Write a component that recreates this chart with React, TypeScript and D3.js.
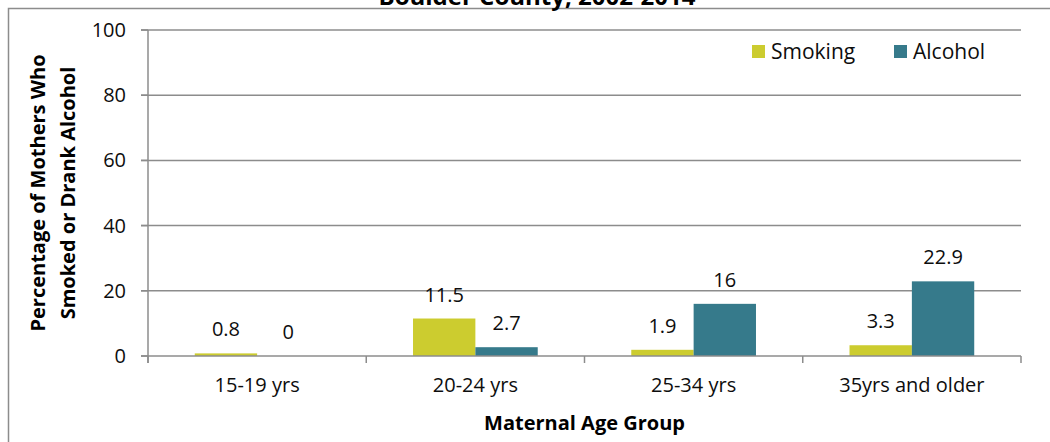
import React from "react";
import * as d3 from "d3";

const categories = ["15-19 yrs", "20-24 yrs", "25-34 yrs", "35yrs and older"];
const seriesNames = ["Smoking", "Alcohol"];
const smoking = [0.8, 11.5, 1.9, 3.3];
const alcohol = [0, 2.7, 16, 22.9];
const yTicks = [0, 20, 40, 60, 80, 100];
const colors = ["#CCCC2F", "#367A8B"];
const titleText = "Boulder County, 2002-2014";

const W = 1050;
const H = 442;
const FONT = "'Open Sans', sans-serif";
const INK = "#0d0d0d";

export default function App() {
  const left = 148, right = 1021, top = 30, bottom = 356;
  const y = d3.scaleLinear().domain([0, 100]).range([bottom, top]);
  const x0 = d3.scaleBand().domain(categories).range([left, right]).paddingInner(0).paddingOuter(0);
  const x1 = d3.scaleBand().domain(seriesNames).range([0, x0.bandwidth()]).paddingInner(0).paddingOuter(0.75);
  const values = [smoking, alcohol];
  const grid = "#8c8c8c";

  return (
    <svg width={W} height={H} style={{ position: "absolute", left: 0, top: 0, background: "#fff" }}>
      <path d={`M8.5,${H} V8.5 H${W}`} fill="none" stroke="#8c8c8c" strokeWidth={1.5} />
      <text x={537} y={5} textAnchor="middle" fontFamily={FONT} fontWeight="bold" fontSize={24} fill="#000">
        {titleText}
      </text>
      {yTicks.filter((t) => t !== 0).map((t) => (
        <line key={t} x1={left - 7} x2={right} y1={y(t)} y2={y(t)} stroke={grid} strokeWidth={1.5} />
      ))}
      {categories.map((c, i) =>
        seriesNames.map((s, j) => {
          const v = values[j][i];
          const bx = (x0(c) as number) + (x1(s) as number);
          return (
            <g key={c + s}>
              <rect x={bx} y={y(v)} width={x1.bandwidth()} height={bottom - y(v)} fill={colors[j]} />
              <text x={bx + x1.bandwidth() / 2} y={y(v) - 17} textAnchor="middle" fontFamily={FONT} fontSize={20} fill={INK}>
                {String(v)}
              </text>
            </g>
          );
        })
      )}
      <line x1={left - 7} x2={right} y1={bottom} y2={bottom} stroke={grid} strokeWidth={1.5} />
      <line x1={left} x2={left} y1={top} y2={bottom + 7} stroke={grid} strokeWidth={1.5} />
      {yTicks.map((t) => (
        <g key={"t" + t}>
          <line x1={left - 7} x2={left} y1={y(t)} y2={y(t)} stroke={grid} strokeWidth={1.5} />
          <text x={126} y={y(t) + 7} textAnchor="end" fontFamily={FONT} fontSize={20} fill={INK}>
            {t}
          </text>
        </g>
      ))}
      {categories.map((c) => (
        <line key={"xt" + c} x1={x0(c) as number} x2={x0(c) as number} y1={bottom} y2={bottom + 7} stroke={grid} strokeWidth={1.5} />
      ))}
      <line x1={right} x2={right} y1={bottom} y2={bottom + 7} stroke={grid} strokeWidth={1.5} />
      {categories.map((c) => (
        <text key={"xl" + c} x={(x0(c) as number) + x0.bandwidth() / 2} y={392} textAnchor="middle" fontFamily={FONT} fontSize={20} fill={INK}>
          {c}
        </text>
      ))}
      <text x={(left + right) / 2} y={430} textAnchor="middle" fontFamily={FONT} fontWeight="bold" fontSize={20} fill="#000">
        Maternal Age Group
      </text>
      <g transform={`translate(0,${(top + bottom) / 2}) rotate(-90)`} fontFamily={FONT} fontWeight="bold" fontSize={20} fill="#000">
        <text x={0} y={45} textAnchor="middle">Percentage of Mothers Who</text>
        <text x={0} y={75} textAnchor="middle">Smoked or Drank Alcohol</text>
      </g>
      {seriesNames.map((s, j) => {
        const lx = [752, 894][j];
        return (
          <g key={"lg" + s}>
            <rect x={lx} y={45} width={13} height={13} fill={colors[j]} />
            <text x={lx + 19} y={59} fontFamily={FONT} fontSize={21} fill={INK}>
              {s}
            </text>
          </g>
        );
      })}
    </svg>
  );
}
